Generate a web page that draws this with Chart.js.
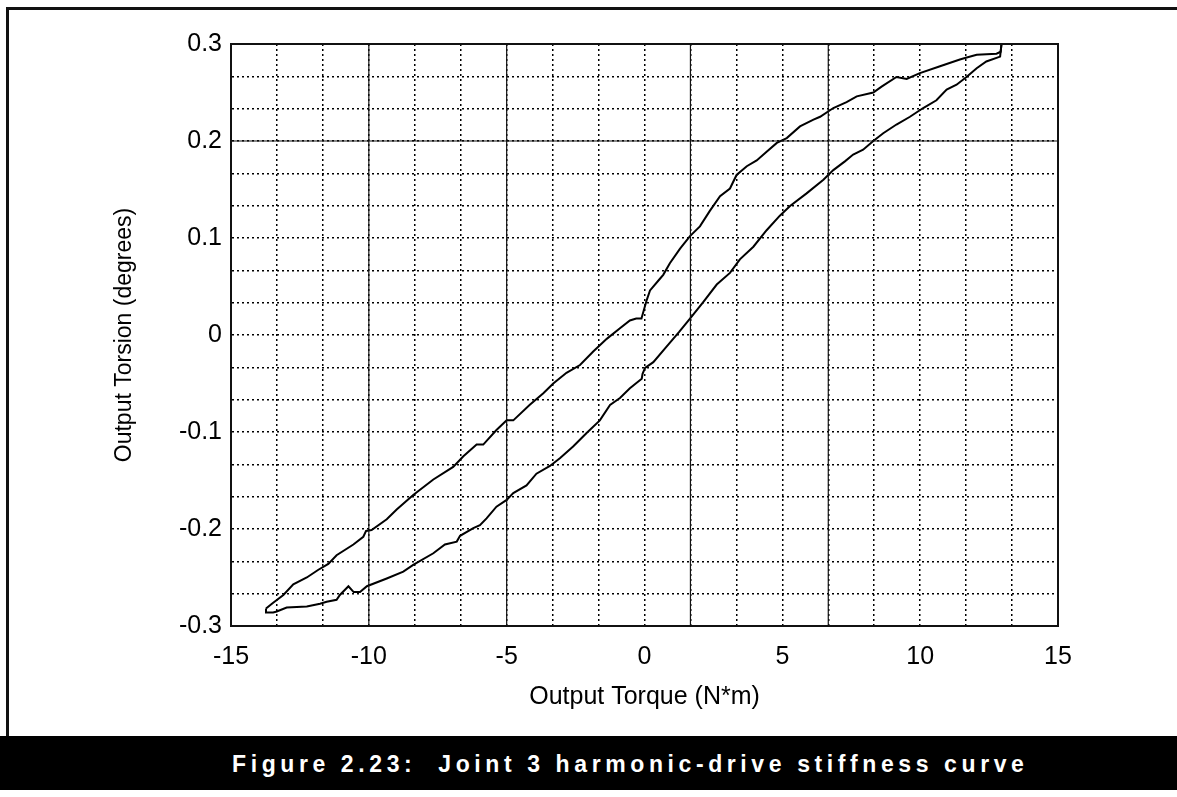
<!DOCTYPE html>
<html>
<head>
<meta charset="utf-8">
<script src="https://cdn.jsdelivr.net/npm/chart.js@4"></script>
<style>
  html, body { margin: 0; padding: 0; background: #fff; }
  #wrap { position: relative; width: 1177px; height: 797px; overflow: hidden; }
  #chartBox { position: absolute; left: 0; top: 0; width: 1177px; height: 736px; }
  #frameTop { position: absolute; left: 6px; top: 7px; width: 1171px; height: 3px; background: #111; }
  #frameLeft { position: absolute; left: 6px; top: 7px; width: 3px; height: 730px; background: #111; }
  #caption {
    position: absolute; left: 0; top: 736px; width: 1177px; height: 54px;
    background: #000; color: #fff; white-space: pre;
    font: bold 23px "Liberation Sans", Arial, sans-serif; letter-spacing: 4.6px;
    display: flex; align-items: center; box-sizing: border-box; padding-left: 232px; padding-top: 3px;
  }
</style>
</head>
<body>
<div id="wrap">
  <div id="chartBox"><canvas id="myChart" width="1177" height="736"></canvas></div>
  <div id="frameTop"></div>
  <div id="frameLeft"></div>
  <div id="caption">Figure 2.23:  Joint 3 harmonic-drive stiffness curve</div>
</div>
<script>
// loading branch (torque increasing)
const upTorque = [-13.73, -13.47, -13.10, -12.74, -12.25, -11.83, -11.47, -11.17, -10.56, -10.20,
    -10.10, -9.90, -9.35, -8.99, -8.39, -7.66, -6.94, -6.57, -6.09, -5.85,
    -5.37, -5.00, -4.76, -4.16, -3.67, -3.31, -2.83, -2.34, -1.86, -1.37,
    -0.89, -0.53, -0.30, -0.11, -0.02, 0.08, 0.20, 0.56, 0.68, 0.92,
    1.29, 1.65, 2.01, 2.37, 2.74, 3.10, 3.34, 3.71, 4.07, 4.43,
    4.80, 5.16, 5.64, 6.13, 6.37, 6.85, 7.33, 7.70, 8.30, 8.60,
    9.14, 9.51, 9.99, 10.72, 11.44, 11.69, 12.05, 12.77, 12.92, 12.95];
const upTorsion = [-0.282, -0.276, -0.268, -0.257, -0.250, -0.242, -0.236, -0.227, -0.216, -0.208,
    -0.202, -0.201, -0.190, -0.180, -0.165, -0.149, -0.136, -0.125, -0.113, -0.113,
    -0.098, -0.088, -0.088, -0.072, -0.060, -0.050, -0.039, -0.031, -0.017, -0.004,
    0.007, 0.015, 0.017, 0.017, 0.026, 0.036, 0.046, 0.058, 0.062, 0.074,
    0.089, 0.102, 0.112, 0.128, 0.143, 0.151, 0.165, 0.174, 0.180, 0.189,
    0.198, 0.203, 0.215, 0.222, 0.225, 0.234, 0.240, 0.246, 0.250, 0.256,
    0.266, 0.264, 0.270, 0.277, 0.284, 0.286, 0.289, 0.290, 0.292, 0.300];

// unloading branch (torque decreasing)
const downTorque = [12.95, 12.90, 12.40, 12.05, 11.68, 11.32, 10.96, 10.59, 10.11, 9.63,
    9.14, 8.66, 8.30, 7.93, 7.57, 7.27, 6.85, 6.49, 5.88, 5.28,
    4.91, 4.43, 3.95, 3.46, 3.10, 2.62, 2.13, 1.65, 1.25, 0.80,
    0.32, 0.02, -0.07, -0.10, -0.53, -0.89, -1.25, -1.62, -2.10, -2.59,
    -3.07, -3.43, -3.92, -4.28, -4.76, -5.00, -5.37, -5.73, -5.97, -6.21,
    -6.69, -6.81, -7.24, -7.66, -8.39, -8.75, -9.35, -10.07, -10.32, -10.55,
    -10.74, -11.05, -11.17, -11.53, -11.77, -12.25, -12.98, -13.34, -13.47, -13.71, -13.73];
const downTorsion = [0.300, 0.287, 0.282, 0.275, 0.266, 0.258, 0.253, 0.242, 0.234, 0.225,
    0.217, 0.208, 0.200, 0.191, 0.186, 0.179, 0.170, 0.160, 0.146, 0.133,
    0.123, 0.108, 0.091, 0.078, 0.064, 0.052, 0.034, 0.017, 0.003, -0.012,
    -0.028, -0.034, -0.040, -0.045, -0.055, -0.065, -0.072, -0.088, -0.101, -0.115,
    -0.127, -0.135, -0.143, -0.155, -0.163, -0.170, -0.177, -0.189, -0.196, -0.199,
    -0.207, -0.213, -0.216, -0.225, -0.237, -0.244, -0.251, -0.259, -0.265, -0.265,
    -0.259, -0.268, -0.273, -0.275, -0.277, -0.280, -0.281, -0.285, -0.286, -0.286, -0.282];

const xTickLabels = [-15, -10, -5, 0, 5, 10, 15];
const yTickLabels = [-0.3, -0.2, -0.1, 0, 0.1, 0.2, 0.3];
// gridlines that look solid in the scan
const solidX = [-10, -5, 5 / 3, 20 / 3];
const solidY = [0.2];

const toPoints = (xs, ys) => xs.map((x, i) => ({x: x, y: ys[i]}));

// three grid divisions between labelled ticks
const gridTicks = (labels) => {
    let out = [];
    for (let i = 0; i < labels.length - 1; i++) {
        let a = labels[i], b = labels[i + 1];
        for (let k = 0; k < 3; k++) out.push({value: a + (b - a) * k / 3, major: k === 0});
    }
    out.push({value: labels[labels.length - 1], major: true});
    return out;
};

const framePlugin = {
    id: 'frame',
    afterDatasetsDraw(chart) {
        const {ctx, chartArea: a, scales} = chart;
        ctx.save();
        ctx.strokeStyle = '#111';
        ctx.lineWidth = 1.2;
        solidX.forEach(v => {
            let px = scales.x.getPixelForValue(v);
            ctx.beginPath(); ctx.moveTo(px, a.top); ctx.lineTo(px, a.bottom); ctx.stroke();
        });
        solidY.forEach(v => {
            let py = scales.y.getPixelForValue(v);
            ctx.beginPath(); ctx.moveTo(a.left, py); ctx.lineTo(a.right, py); ctx.stroke();
        });
        ctx.lineWidth = 2;
        ctx.strokeRect(a.left, a.top, a.right - a.left, a.bottom - a.top);
        ctx.restore();
    }
};

const lineStyle = {
    showLine: true,
    pointRadius: 0,
    borderColor: '#000',
    borderWidth: 2,
    tension: 0,
    fill: false
};

const createAChart = () => {
    let ctx = document.getElementById('myChart').getContext('2d');
    new Chart(ctx, {
        type: 'scatter',
        data: {
            datasets: [
                Object.assign({label: 'loading', data: toPoints(upTorque, upTorsion)}, lineStyle),
                Object.assign({label: 'unloading', data: toPoints(downTorque, downTorsion)}, lineStyle)
            ]
        },
        options: {
            responsive: false,
            animation: false,
            layout: {padding: {left: 0, top: 44, right: 119, bottom: 0}},
            plugins: {legend: {display: false}, tooltip: {enabled: false}},
            scales: {
                x: {
                    type: 'linear',
                    min: -15, max: 15,
                    afterBuildTicks: (s) => { s.ticks = gridTicks(xTickLabels); },
                    afterFit: (s) => { s.height = 110; },
                    grid: {color: '#000', lineWidth: 1.5, drawTicks: false},
                    border: {display: true, color: '#000', width: 2, dash: [2, 3]},
                    ticks: {
                        color: '#000', padding: 16, maxRotation: 0, autoSkip: false,
                        font: {family: '"Liberation Sans", Arial', size: 25},
                        callback: (v, i, t) => t[i].major ? String(Math.round(v)) : ''
                    },
                    title: {
                        display: true, text: 'Output Torque (N*m)', color: '#000',
                        font: {family: '"Liberation Sans", Arial', size: 25},
                        padding: {top: 0, bottom: 24}
                    }
                },
                y: {
                    type: 'linear',
                    min: -0.3, max: 0.3,
                    afterBuildTicks: (s) => { s.ticks = gridTicks(yTickLabels); },
                    afterFit: (s) => { s.width = 231; },
                    grid: {color: '#000', lineWidth: 1.5, drawTicks: false},
                    border: {display: true, color: '#000', width: 2, dash: [2, 3]},
                    ticks: {
                        color: '#000', padding: 9, autoSkip: false,
                        font: {family: '"Liberation Sans", Arial', size: 25},
                        callback: (v, i, t) => {
                            if (!t[i].major) return '';
                            let r = Math.round(v * 10) / 10;
                            return r === 0 ? '0' : r.toFixed(1);
                        }
                    },
                    title: {
                        display: true, text: 'Output Torsion (degrees)', color: '#000',
                        font: {family: '"Liberation Sans", Arial', size: 23},
                        padding: {top: 111, bottom: 0}
                    }
                }
            }
        },
        plugins: [framePlugin]
    });
};

createAChart();
</script>
</body>
</html>
